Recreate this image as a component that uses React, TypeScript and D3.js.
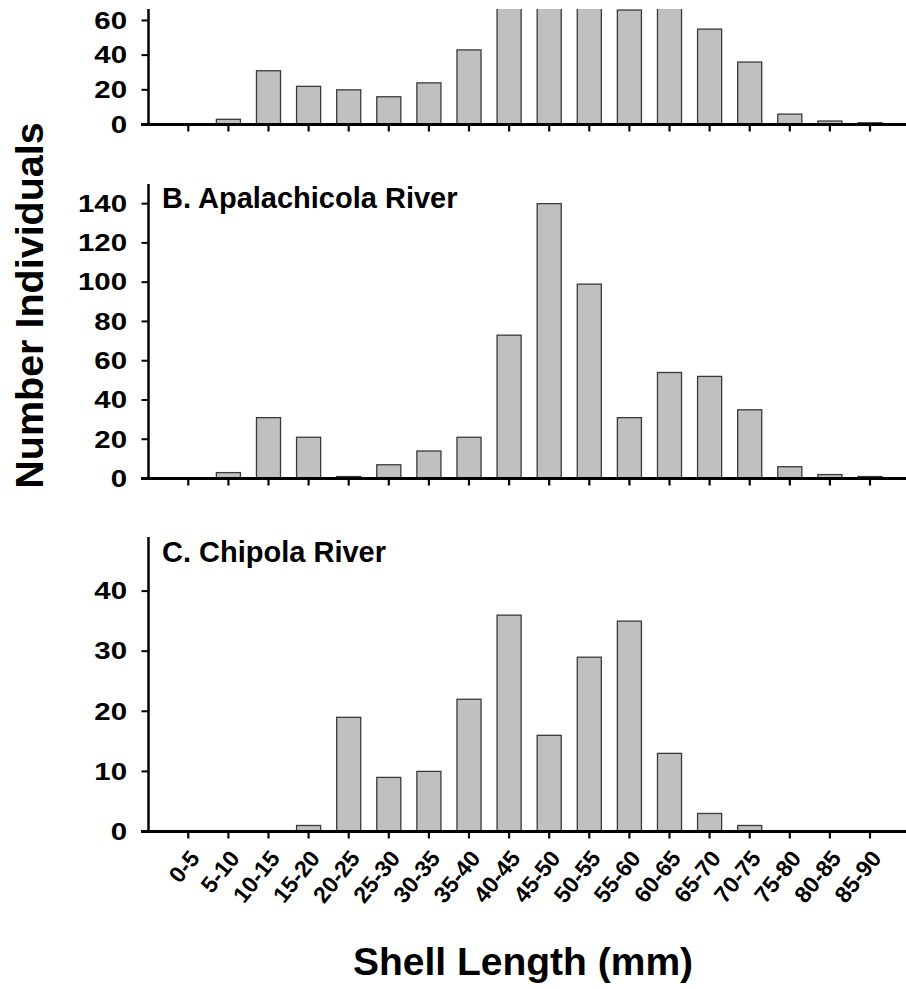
import React from "react";
import * as d3 from "d3";

const categories = ["0-5","5-10","10-15","15-20","20-25","25-30","30-35","35-40","40-45","45-50","50-55","55-60","60-65","65-70","70-75","75-80","80-85","85-90"];
const panelAValues = [0,3,31,22,20,16,24,43,109,156,128,66,67,55,36,6,2,1];
const apalachicolaValues = [0,3,31,21,1,7,14,21,73,140,99,31,54,52,35,6,2,1];
const chipolaValues = [0,0,0,1,19,9,10,22,36,16,29,35,13,3,1,0,0,0];
const panelATicks = [0,20,40,60];
const panelBTicks = [0,20,40,60,80,100,120,140];
const panelCTicks = [0,10,20,30,40];

const FONT = "'Liberation Sans', Arial, Helvetica, sans-serif";
const W = 906, H = 989;
const axisX = 148.5;

const x = d3.scaleBand<string>()
  .domain(categories)
  .range([168.25, 890.05])
  .paddingInner(0.4)
  .paddingOuter(0.2);

type PanelProps = {
  id: string;
  values: number[];
  ticks: number[];
  yMax: number;
  base: number;
  top: number;
  title?: string;
  titleY?: number;
  showLabels?: boolean;
};

function Panel({ id, values, ticks, yMax, base, top, title, titleY, showLabels }: PanelProps) {
  const y = d3.scaleLinear().domain([0, yMax]).range([base, top]);
  return (
    <g>
      <defs>
        <clipPath id={id}>
          <rect x={0} y={top} width={W} height={base - top + 2} />
        </clipPath>
      </defs>
      <g clipPath={`url(#${id})`}>
        {values.map((v, i) => {
          const bx = x(categories[i])!;
          const yTop = y(v);
          const h = base - yTop;
          if (v <= 0) return null;
          return (
            <rect key={i} x={bx} y={yTop} width={x.bandwidth()} height={h}
              fill="#c0c0c0" stroke="#3a3a3a" strokeWidth={1.3} />
          );
        })}
      </g>
      {/* y axis */}
      <line x1={axisX} x2={axisX} y1={top} y2={base} stroke="#000" strokeWidth={2.5} />
      {ticks.map((t) => (
        <g key={t}>
          <line x1={axisX - 7} x2={axisX} y1={y(t)} y2={y(t)} stroke="#000" strokeWidth={2} />
          <text transform={`translate(127,${y(t)}) scale(1.28,1)`} dy="0.36em" textAnchor="end" fontFamily={FONT}
            fontWeight="bold" fontSize={23} fill="#000">{t}</text>
        </g>
      ))}
      {/* x axis */}
      <line x1={141} x2={W} y1={base} y2={base} stroke="#000" strokeWidth={2.8} />
      {categories.map((c) => {
        const cx = x(c)! + x.bandwidth() / 2;
        return (
          <g key={c}>
            <line x1={cx} x2={cx} y1={base} y2={base + 7} stroke="#000" strokeWidth={2.2} />
            {showLabels && (
              <text transform={`translate(${cx + 6},${base + 22}) rotate(-51)`} dy="0.36em" textAnchor="end"
                fontFamily={FONT} fontWeight="bold" fontSize={23} fill="#000">{c}</text>
            )}
          </g>
        );
      })}
      {title && (
        <text x={162} y={titleY} fontFamily={FONT} fontWeight="bold" fontSize={29} fill="#000">{title}</text>
      )}
    </g>
  );
}

export default function App() {
  return (
    <svg width={W} height={H} style={{ position: "absolute", left: 0, top: 0, background: "#fff" }}
      xmlns="http://www.w3.org/2000/svg">
      <rect x={0} y={0} width={W} height={H} fill="#fff" />
      <Panel id="clipA" values={panelAValues} ticks={panelATicks} yMax={66.6} base={124.5} top={9} />
      <Panel id="clipB" values={apalachicolaValues} ticks={panelBTicks} yMax={150} base={478.5} top={184}
        title="B. Apalachicola River" titleY={208} />
      <Panel id="clipC" values={chipolaValues} ticks={panelCTicks} yMax={49} base={831.5} top={537}
        title="C. Chipola River" titleY={562} showLabels />
      <text transform="translate(43,305.5) rotate(-90)" textAnchor="middle" fontFamily={FONT}
        fontWeight="bold" fontSize={39.5} fill="#000">Number Individuals</text>
      <text x={523} y={975} textAnchor="middle" fontFamily={FONT}
        fontWeight="bold" fontSize={39} fill="#000">Shell Length (mm)</text>
    </svg>
  );
}
